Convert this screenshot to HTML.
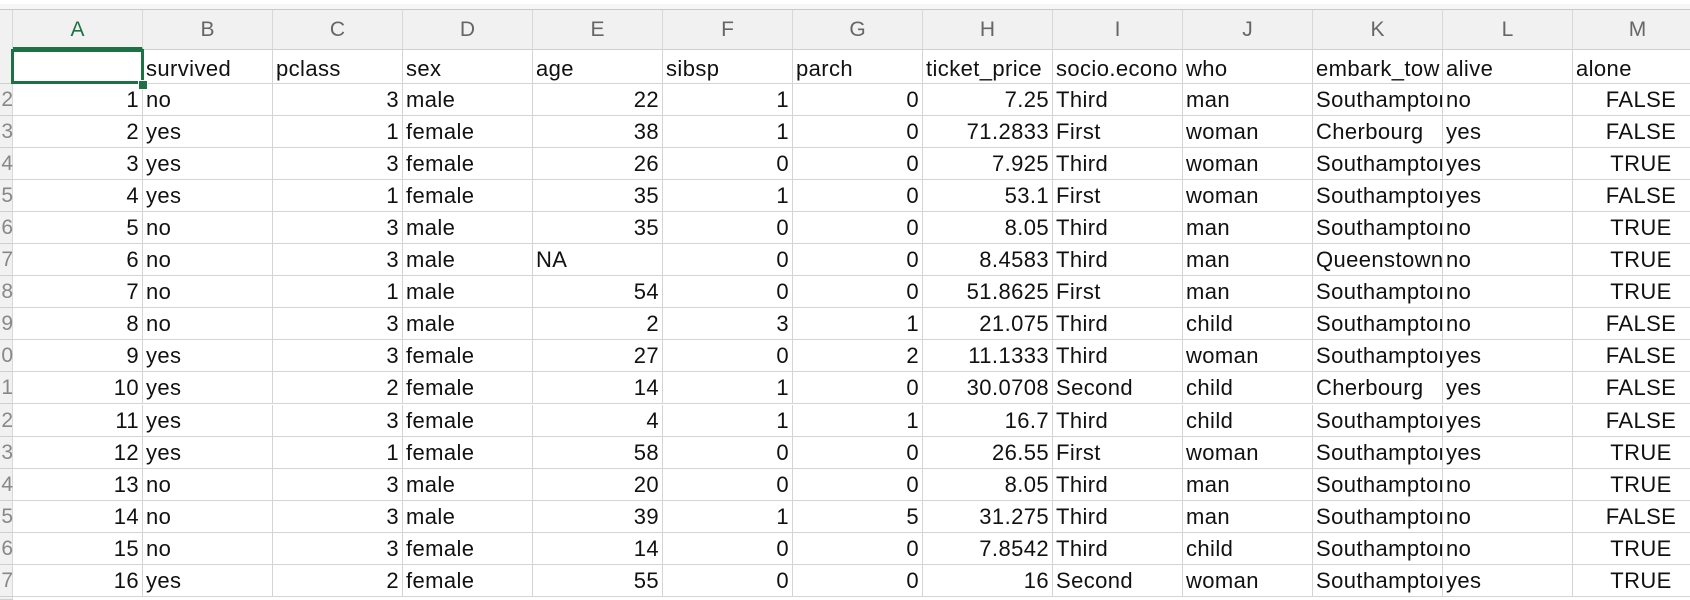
<!DOCTYPE html>
<html><head><meta charset="utf-8"><style>
body{margin:0;width:1690px;height:600px;overflow:hidden;background:#fff;font-family:"Liberation Sans","Noto Sans CJK SC",sans-serif;position:relative}
.c{position:absolute;box-sizing:border-box;border-right:1px solid #d4d4d4;border-bottom:1px solid #d4d4d4;font-size:22px;letter-spacing:0.4px;color:#111;white-space:nowrap;overflow:hidden;padding:0 3px;line-height:32px}
.h{position:absolute;box-sizing:border-box;background:#f1f1f1;border-right:1px solid #d8d8d8;border-bottom:1px solid #cfcfcf;font-size:21px;color:#666;text-align:center;line-height:40px}
.r{text-align:right}
</style></head><body>
<div style="position:absolute;left:0;top:0;width:1690px;height:10px;background:#f6f6f6;border-top:4px solid #fff;box-sizing:border-box;border-bottom:1px solid #c8c8c8"></div>
<div id="grid"></div>
<script>
const cols=['A','B','C','D','E','F','G','H','I','J','K','L','M'];
const headers=['','survived','pclass','sex','age','sibsp','parch','ticket_price','socio.econo','who','embark_tow','alive','alone'];
const rows=[
[1,'no',3,'male',22,1,0,'7.25','Third','man','Southampton','no','FALSE'],
[2,'yes',1,'female',38,1,0,'71.2833','First','woman','Cherbourg','yes','FALSE'],
[3,'yes',3,'female',26,0,0,'7.925','Third','woman','Southampton','yes','TRUE'],
[4,'yes',1,'female',35,1,0,'53.1','First','woman','Southampton','yes','FALSE'],
[5,'no',3,'male',35,0,0,'8.05','Third','man','Southampton','no','TRUE'],
[6,'no',3,'male','NA',0,0,'8.4583','Third','man','Queenstown','no','TRUE'],
[7,'no',1,'male',54,0,0,'51.8625','First','man','Southampton','no','TRUE'],
[8,'no',3,'male',2,3,1,'21.075','Third','child','Southampton','no','FALSE'],
[9,'yes',3,'female',27,0,2,'11.1333','Third','woman','Southampton','yes','FALSE'],
[10,'yes',2,'female',14,1,0,'30.0708','Second','child','Cherbourg','yes','FALSE'],
[11,'yes',3,'female',4,1,1,'16.7','Third','child','Southampton','yes','FALSE'],
[12,'yes',1,'female',58,0,0,'26.55','First','woman','Southampton','yes','TRUE'],
[13,'no',3,'male',20,0,0,'8.05','Third','man','Southampton','no','TRUE'],
[14,'no',3,'male',39,1,5,'31.275','Third','man','Southampton','no','FALSE'],
[15,'no',3,'female',14,0,0,'7.8542','Third','child','Southampton','no','TRUE'],
[16,'yes',2,'female',55,0,0,'16','Second','woman','Southampton','yes','TRUE']];
const g=document.getElementById('grid');
const X0=13,CW=130,Y0=50,HR=34,RH=32.05;
function mk(cls,l,t,w,h,txt){const d=document.createElement('div');d.className=cls;d.style.left=l+'px';d.style.top=t+'px';d.style.width=w+'px';d.style.height=h+'px';d.textContent=txt;g.appendChild(d);return d;}
const rh=mk('h',0,10,X0,590,'');


for(let i=0;i<=16;i++){const y=Y0+(i==0?0:HR+(i-1)*RH);const t=i==0?'':String(i+1).slice(-1);const d=mk('',0,y,X0,i==0?HR:RH,t);d.style.position='absolute';d.style.fontSize='21px';d.style.color='#888';d.style.textAlign='right';d.style.lineHeight=(i==0?HR:RH)+'px';d.style.borderBottom='1px solid #d0d0d0';d.style.boxSizing='border-box';d.style.overflow='hidden';d.style.textIndent='-9px';

}
cols.forEach((c,j)=>{const d=mk('h',X0+j*CW,10,CW,40,c);


if(j==0){d.style.color='#1e7145';d.style.borderBottom='3px solid #1e7145';}});
headers.forEach((t,j)=>{const d=mk('c',X0+j*CW,Y0,CW,HR,t);d.style.lineHeight=(HR+4)+'px';

});
rows.forEach((r,i)=>{r.forEach((v,j)=>{const y=Y0+HR+i*RH;const num=typeof v==='number'||j==7||j==12;const d=mk('c'+(num?' r':''),X0+j*CW,y,CW,RH,String(v));
if(j==12){d.style.textAlign='center';d.style.paddingLeft='10px';}

});});
const sel=document.createElement('div');
sel.style.cssText='position:absolute;left:11px;top:49px;width:133px;height:35px;border:3px solid #1e7145;box-sizing:border-box';


g.appendChild(sel);
const hd=document.createElement('div');
hd.style.cssText='position:absolute;left:138px;top:80px;width:8px;height:8px;background:#1e7145;border:1px solid #fff';


g.appendChild(hd);
</script>
</body></html>
